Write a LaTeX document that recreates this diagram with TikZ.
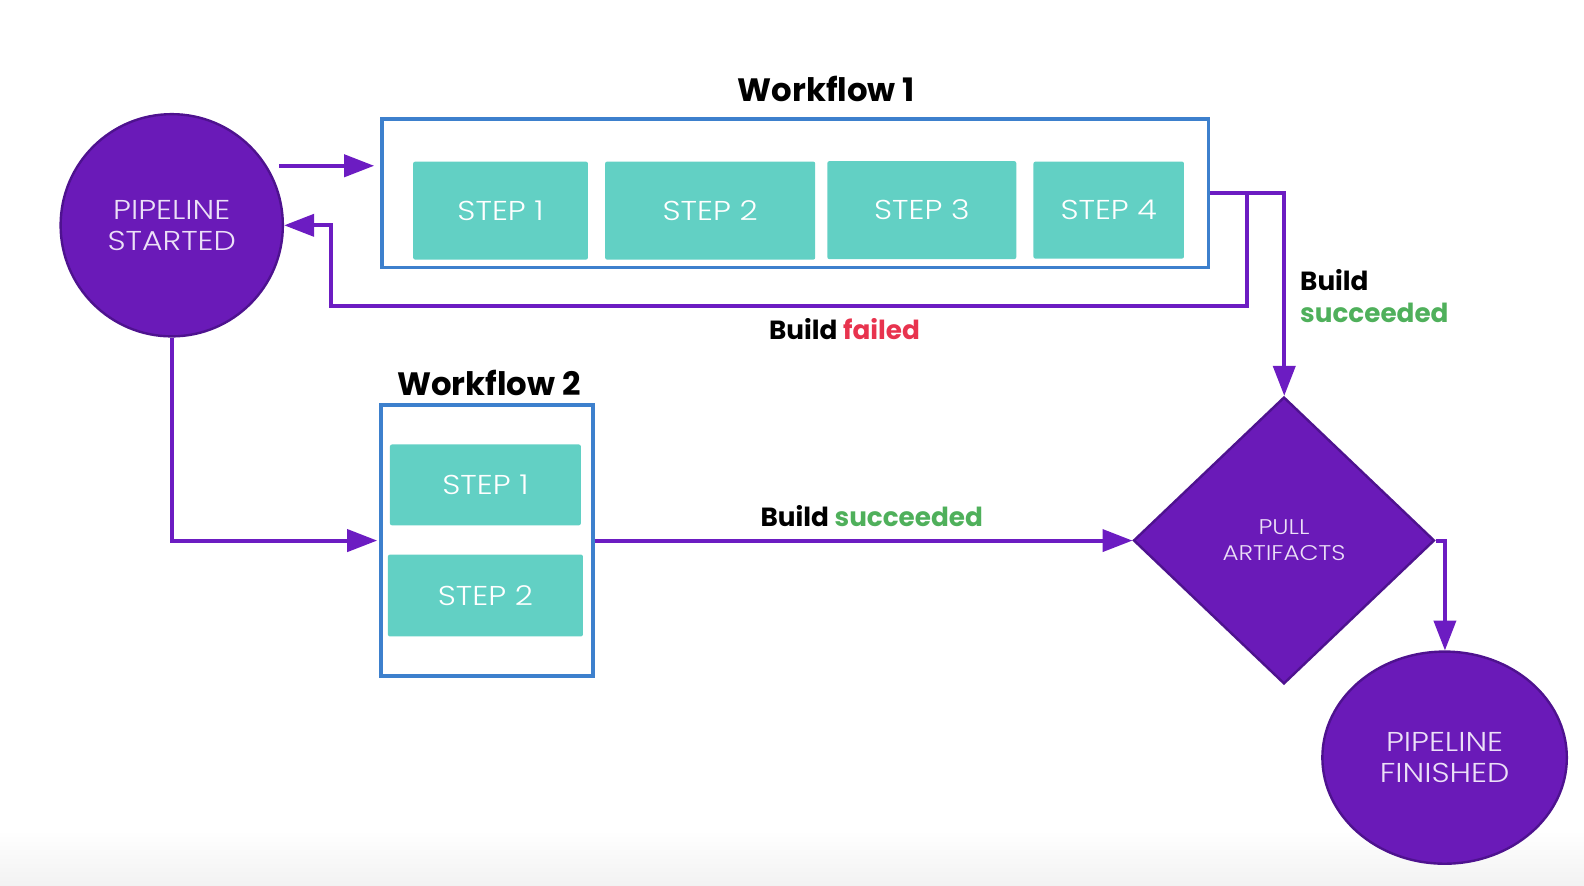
\documentclass[tikz,border=0pt]{standalone}
\usepackage{fontspec}
\setmainfont{Poppins}
\newfontfamily\lightfont{Poppins}[UprightFont=* Light, FakeStretch=1.16]
\usetikzlibrary{shapes.geometric,arrows.meta}
\definecolor{pfill}{HTML}{6A1AB8}
\definecolor{pdraw}{HTML}{4E128F}
\definecolor{parrow}{HTML}{6C1CC2}
\definecolor{ptext}{HTML}{ECE0F7}
\definecolor{steal}{HTML}{62D0C4}
\definecolor{wblue}{HTML}{3D80CD}
\definecolor{fgreen}{HTML}{4FB05B}
\definecolor{fred}{HTML}{E8334E}
\tikzset{
  stepbox/.style={fill=steal, draw=none, rounded corners=1pt, text=white, inner sep=0pt,
    font=\lightfont\fontsize{13.5}{16}\selectfont},
  wfbox/.style={draw=wblue, line width=1.7pt, fill=none, inner sep=0pt},
  termnode/.style={fill=pfill, draw=pdraw, line width=1.2pt, text=ptext, align=center, inner sep=0pt,
    font=\lightfont\fontsize{13.5}{15.5}\selectfont},
  title/.style={font=\bfseries\fontsize{16}{18}\selectfont, text=black},
  lbl/.style={font=\bfseries\fontsize{13}{15}\selectfont, text=black},
  arr/.style={draw=parrow, line width=2pt, -{Triangle[length=15pt,width=11pt]}}
}
\begin{document}
\begin{tikzpicture}[x=0.5pt,y=-0.5pt,scale=1.0102,transform shape]
\useasboundingbox (0,0) rectangle (1568,877);
\shade[top color=white, bottom color=black!5] (0,822) rectangle (1568,877);

% nodes
\node[termnode, circle, minimum size=110pt] (ps) at (170,223) {PIPELINE\\STARTED};

\node[wfbox, minimum width=409pt, minimum height=73.5pt] (wf1) at (787,191.5) {};
\node[title] (t1) at (818,88) {Workflow 1};
\node[stepbox, minimum width=86.5pt, minimum height=48.5pt] (s11) at (495.5,208.5) {STEP 1};
\node[stepbox, minimum width=104pt, minimum height=48.5pt] (s12) at (703,208.5) {STEP 2};
\node[stepbox, minimum width=93.5pt, minimum height=48.5pt] (s13) at (912.5,208) {STEP 3};
\node[stepbox, minimum width=74.5pt, minimum height=48pt] (s14) at (1097.5,208) {STEP 4};

\node[wfbox, minimum width=105pt, minimum height=134pt] (wf2) at (482,535) {};
\node[title] (t2) at (484,379) {Workflow 2};
\node[stepbox, minimum width=94.5pt, minimum height=40pt] (s21) at (480.5,480) {STEP 1};
\node[stepbox, minimum width=96.5pt, minimum height=40.5pt] (s22) at (480.5,589.5) {STEP 2};

\node[termnode, diamond, minimum width=149pt, minimum height=142pt,
  font=\lightfont\fontsize{10.5}{13}\selectfont] (pa) at (1271,535) {PULL\\ARTIFACTS};
\node[termnode, ellipse, minimum width=121pt, minimum height=105pt] (pf) at (1430,750) {PIPELINE\\FINISHED};

% labels
\node[lbl] (lf) at (836,326) {Build \textcolor{fred}{failed}};
\node[lbl] (ls2) at (863,511) {Build \textcolor{fgreen}{succeeded}};
\node[lbl, anchor=west, align=left, font=\bfseries\fontsize{13}{15.5}\selectfont] (ls1) at (1280,293) {Build\\\textcolor{fgreen}{succeeded}};

% connector bend points
\coordinate (f1) at (1234,303);
\coordinate (f2) at (328,303);

% connectors
\draw[arr] ([xshift=6pt]ps.32) -- ([xshift=-3pt]wf1.west |- ps.32);
\draw[arr] (wf1.east) -| (f1) -- (f2) |- (ps.east);
\draw[arr] (wf1.east) -| (pa.north);
\draw[arr] (ps.south) |- ([xshift=-1pt]wf2.west);
\draw[arr] (wf2.east) -- (pa.west);
\draw[arr] (pa.east) -| (pf.north);
\end{tikzpicture}
\end{document}
